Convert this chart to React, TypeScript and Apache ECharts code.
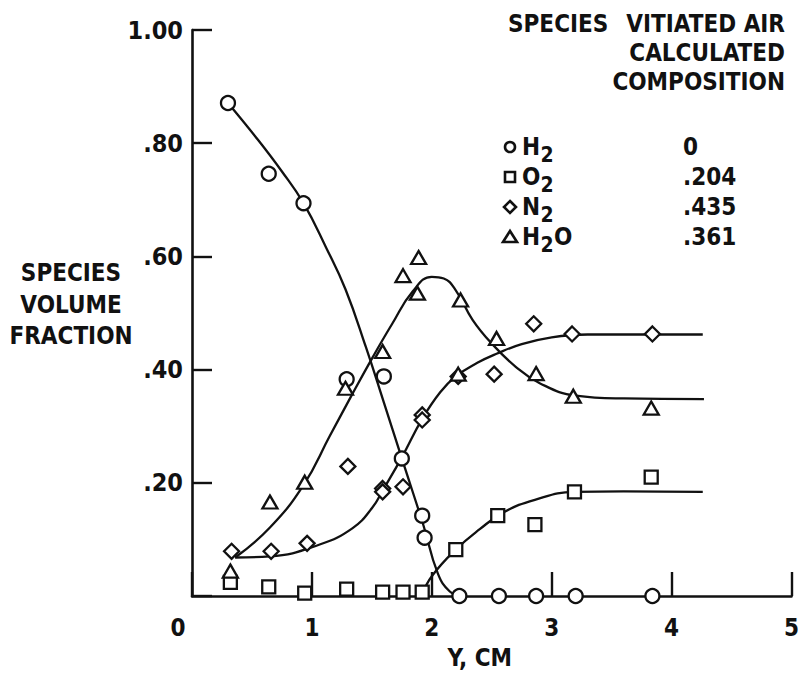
import React, { useEffect, useRef } from "react";
import * as echarts from "echarts";

// Measured points
const h2X = [0.30, 0.64, 0.93, 1.29, 1.60, 1.75, 1.92, 1.94, 2.23, 2.56, 2.87, 3.20, 3.84];
const h2Y = [0.871, 0.746, 0.694, 0.383, 0.388, 0.243, 0.142, 0.103, 0, 0, 0, 0, 0];

const o2X = [0.32, 0.64, 0.94, 1.29, 1.59, 1.76, 1.92, 2.20, 2.55, 2.86, 3.19, 3.83];
const o2Y = [0.024, 0.016, 0.005, 0.012, 0.007, 0.007, 0.007, 0.082, 0.142, 0.126, 0.184, 0.21];

const n2X = [0.33, 0.66, 0.96, 1.30, 1.59, 1.59, 1.76, 1.92, 1.92, 2.22, 2.52, 2.85, 3.17, 3.84];
const n2Y = [0.079, 0.079, 0.093, 0.229, 0.19, 0.184, 0.193, 0.32, 0.311, 0.388, 0.392, 0.481, 0.463, 0.463];

const h2oX = [0.32, 0.65, 0.94, 1.28, 1.59, 1.76, 1.88, 1.89, 2.22, 2.24, 2.54, 2.87, 3.18, 3.83];
const h2oY = [0.044, 0.166, 0.201, 0.367, 0.432, 0.566, 0.535, 0.598, 0.392, 0.523, 0.455, 0.393, 0.353, 0.332];

// Faired curves
const h2CurveX = [0.30, 0.55, 0.75, 0.93, 1.12, 1.28, 1.45, 1.6, 1.75, 1.93, 2.05, 2.15, 2.25];
const h2CurveY = [0.871, 0.806, 0.75, 0.694, 0.615, 0.542, 0.44, 0.342, 0.243, 0.125, 0.04, 0.008, 0];

const o2CurveX = [1.92, 2.0, 2.2, 2.4, 2.6, 2.86, 3.19, 3.6, 4.26];
const o2CurveY = [0.003, 0.035, 0.082, 0.118, 0.148, 0.17, 0.184, 0.185, 0.184];

const n2CurveX = [0.36, 0.65, 1.065, 1.34, 1.5, 1.6, 1.75, 1.92, 2.07, 2.2, 2.38, 2.54, 2.75, 3.0, 3.3, 4.26];
const n2CurveY = [0.068, 0.07, 0.091, 0.12, 0.155, 0.19, 0.245, 0.313, 0.36, 0.388, 0.412, 0.428, 0.445, 0.457, 0.462, 0.462];

const h2oCurveX = [0.36, 0.65, 0.93, 1.15, 1.32, 1.51, 1.67, 1.84, 2.0, 2.1, 2.2, 2.34, 2.5, 2.7, 2.9, 3.2, 3.6, 4.27];
const h2oCurveY = [0.068, 0.121, 0.196, 0.283, 0.35, 0.423, 0.481, 0.538, 0.564, 0.561, 0.54, 0.488, 0.446, 0.405, 0.376, 0.354, 0.349, 0.348];

// Legend table
const legendSpecies = ["H", "O", "N", "H"];
const legendSuffix = ["", "", "", "O"];
const legendValues = ["0", ".204", ".435", ".361"];

const FONT = "'DejaVu Sans Condensed', 'Liberation Sans Narrow', 'DejaVu Sans', sans-serif";
const INK = "#111";

const pairs = (xs: number[], ys: number[]) => xs.map((x, i) => [x, ys[i]]);

export default function App() {
  const ref = useRef<HTMLDivElement>(null);
  useEffect(() => {
    if (!ref.current) return;
    const chart = echarts.init(ref.current, null, { renderer: "svg" });

    const scatter = (name: string, xs: number[], ys: number[], symbol: string, size: any) => ({
      type: "scatter",
      name,
      data: pairs(xs, ys),
      symbol,
      symbolSize: size,
      itemStyle: { color: "#fff", borderColor: INK, borderWidth: 2.3, opacity: 1 },
      z: 5,
    });
    const curve = (name: string, xs: number[], ys: number[]) => ({
      type: "line",
      name,
      data: pairs(xs, ys),
      smooth: 0.45,
      showSymbol: false,
      lineStyle: { color: INK, width: 2.3 },
      z: 3,
    });

    const B = `bold 24px ${FONT}`;
    const rowY = [147, 177, 207, 237];
    const legendGraphics: any[] = [];
    legendGraphics.push({ type: "circle", shape: { cx: 510, cy: rowY[0], r: 5 }, style: { fill: "#fff", stroke: INK, lineWidth: 2.6 } });
    legendGraphics.push({ type: "rect", shape: { x: 505, y: rowY[1] - 5, width: 10, height: 10 }, style: { fill: "#fff", stroke: INK, lineWidth: 2.6 } });
    legendGraphics.push({ type: "polygon", shape: { points: [[510, rowY[2] - 6], [516, rowY[2]], [510, rowY[2] + 6], [504, rowY[2]]] }, style: { fill: "#fff", stroke: INK, lineWidth: 2.6 } });
    legendGraphics.push({ type: "polygon", shape: { points: [[510, rowY[3] - 6], [517, rowY[3] + 5], [503, rowY[3] + 5]] }, style: { fill: "#fff", stroke: INK, lineWidth: 2.6 } });
    legendSpecies.forEach((s, i) => {
      const y = rowY[i];
      legendGraphics.push({ type: "text", x: 522, y, style: { text: s, font: B, fill: INK, textVerticalAlign: "middle" } });
      legendGraphics.push({ type: "text", x: 540.5, y: y + 8, style: { text: "2", font: `bold 21px ${FONT}`, fill: INK, textVerticalAlign: "middle" } });
      if (legendSuffix[i]) {
        legendGraphics.push({ type: "text", x: 554, y, style: { text: legendSuffix[i], font: B, fill: INK, textVerticalAlign: "middle" } });
      }
      legendGraphics.push({ type: "text", x: 683, y, style: { text: legendValues[i], font: B, fill: INK, textVerticalAlign: "middle" } });
    });

    const option: any = {
      animation: false,
      backgroundColor: "#fff",
      grid: { left: 192, right: 9, top: 30, bottom: 73 },
      xAxis: {
        type: "value",
        min: 0,
        max: 5,
        interval: 1,
        axisLine: { lineStyle: { color: INK, width: 2.6 } },
        axisTick: { inside: true, length: 24, lineStyle: { color: INK, width: 2.4 } },
        splitLine: { show: false },
        axisLabel: {
          margin: 20,
          fontSize: 24,
          fontWeight: "bold",
          fontFamily: FONT,
          color: INK,
          formatter: (v: number) => (v === 0 ? "{z|0}" : String(v)),
          rich: { z: { fontSize: 24, fontWeight: "bold", fontFamily: FONT, color: INK, padding: [0, 28, 0, 0] } },
        },
        name: "Y, CM",
        nameLocation: "middle",
        nameGap: 50,
        nameTextStyle: { fontSize: 24, fontWeight: "bold", fontFamily: FONT, color: INK, padding: [0, 24, 0, 0] },
      },
      yAxis: {
        type: "value",
        min: 0,
        max: 1,
        interval: 0.2,
        axisLine: { lineStyle: { color: INK, width: 2.6 } },
        axisTick: { inside: true, length: 20, lineStyle: { color: INK, width: 2.4 } },
        splitLine: { show: false },
        axisLabel: {
          margin: 9,
          fontSize: 25,
          fontWeight: "bold",
          fontFamily: FONT,
          color: INK,
          formatter: (v: number) => (v === 0 ? "" : v >= 0.999 ? "1.00" : "." + Math.round(v * 100)),
        },
      },
      graphic: [
        { type: "text", x: 71, y: 273, style: { text: "SPECIES", font: B, fill: INK, textAlign: "center", textVerticalAlign: "middle" } },
        { type: "text", x: 71, y: 305, style: { text: "VOLUME", font: B, fill: INK, textAlign: "center", textVerticalAlign: "middle" } },
        { type: "text", x: 71, y: 336, style: { text: "FRACTION", font: B, fill: INK, textAlign: "center", textVerticalAlign: "middle" } },
        { type: "text", x: 508, y: 24, style: { text: "SPECIES", font: B, fill: INK, textVerticalAlign: "middle" } },
        { type: "text", x: 785, y: 24, style: { text: "VITIATED AIR", font: B, fill: INK, textAlign: "right", textVerticalAlign: "middle" } },
        { type: "text", x: 785, y: 53, style: { text: "CALCULATED", font: B, fill: INK, textAlign: "right", textVerticalAlign: "middle" } },
        { type: "text", x: 785, y: 82, style: { text: "COMPOSITION", font: B, fill: INK, textAlign: "right", textVerticalAlign: "middle" } },
        ...legendGraphics,
      ],
      series: [
        curve("H2 fit", h2CurveX, h2CurveY),
        curve("O2 fit", o2CurveX, o2CurveY),
        curve("N2 fit", n2CurveX, n2CurveY),
        curve("H2O fit", h2oCurveX, h2oCurveY),
        scatter("H2", h2X, h2Y, "circle", 14),
        scatter("O2", o2X, o2Y, "rect", 13),
        scatter("N2", n2X, n2Y, "diamond", [15, 15]),
        scatter("H2O", h2oX, h2oY, "triangle", [15, 13]),
      ],
    };
    chart.setOption(option);
    return () => chart.dispose();
  }, []);
  return <div ref={ref} style={{ width: 802, height: 675, position: "absolute", left: 0, top: 0 }} />;
}
